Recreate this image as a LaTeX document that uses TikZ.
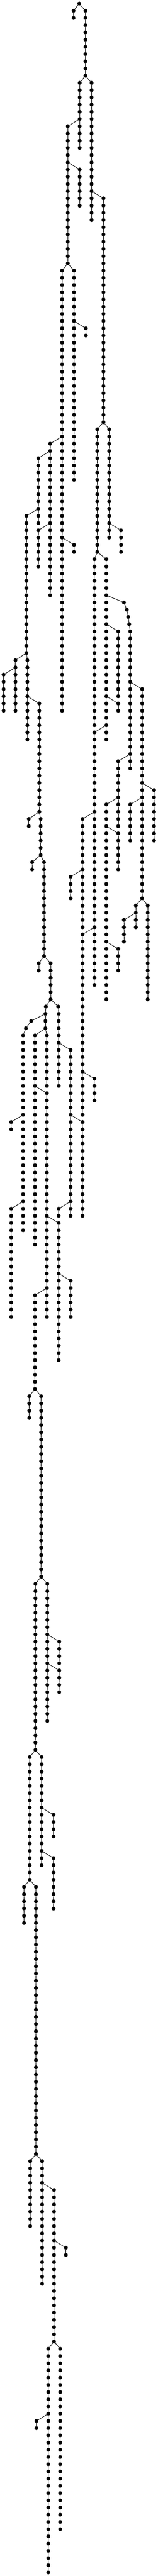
\documentclass[tikz,border=0pt]{standalone}
\tikzset{
	dot/.style={circle,fill=black,inner sep=0pt,minimum size=11pt},
	link/.style={line width=1.33pt}
}
\def\chains{%
	1/666/0/0/0, 2/618/1/2/1, 3/718/1/10/1, 4/670/11/20/3, 5/770/11/30/3,
	6/570/17/36/4, 7/670/23/28/6, 8/870/27/58/5, 9/522/37/98/6, 10/622/37/66/6,
	11/722/45/46/10, 12/422/61/82/9, 13/622/75/76/9, 14/322/63/72/12, 15/322/73/78/12,
	16/222/71/90/14, 17/130/91/98/16, 18/230/91/102/16, 19/30/93/98/17, 20/330/97/112/18,
	21/242/113/114/20, 22/342/113/118/20, 23/270/119/120/22, 24/370/119/132/22, 25/326/133/134/24,
	26/426/133/138/24, 27/386/139/139/26, 28/382/140/142/27, 29/262/141/141/28, 30/218/142/142/29,
	31/194/143/170/30, 32/294/143/172/28, 33/394/143/150/28, 34/490/139/139/26, 35/494/140/150/34,
	36/94/155/156/31, 37/94/167/182/31, 38/394/151/182/32, 39/594/145/168/35, 40/694/155/168/39,
	41/494/167/168/39, 42/494/169/188/38, 43/594/177/182/42, 44/294/179/192/38, 45/246/193/196/44,
	46/346/193/218/44, 47/298/219/242/46, 48/398/219/238/46, 49/498/227/230/48, 50/498/231/234/48,
	51/250/243/260/47, 52/350/243/258/47, 53/450/251/254/52, 54/450/257/264/52, 55/202/261/266/51,
	56/302/261/298/51, 57/254/299/308/56, 58/354/299/316/56, 59/454/303/324/58, 60/554/311/312/59,
	61/406/325/356/59, 62/506/325/350/59, 63/306/335/336/61, 64/818/59/76/8, 65/918/59/74/8,
	66/1018/73/76/65, 67/794/77/100/64, 68/894/77/102/64, 69/1042/83/83/68, 70/1066/84/84/69,
	71/1078/85/85/70, 72/1086/86/86/71, 73/1095/87/106/72, 74/994/87/96/68, 75/994/97/98/68,
	76/794/101/136/68, 77/694/113/128/76, 78/594/121/124/77, 79/694/129/154/76, 80/794/149/152/79,
	81/1195/95/124/73, 82/1295/109/116/81, 83/1095/111/116/81, 84/994/105/114/73, 85/894/111/138/84,
	86/994/115/120/85, 87/994/131/134/85, 88/1142/125/128/81, 89/1042/127/130/88, 90/1242/125/138/81%
}
\begin{document}
\begin{tikzpicture}[x=0.33333pt,y=-20.267pt]
	\useasboundingbox (0,-0.4934) rectangle (1326,356.4934);

	\foreach \id/\x/\first/\last/\up in \chains {
		\foreach \r in {\first,...,\last} {\node[dot] (c\id-\r) at (\x,\r) {};}
	}

	\foreach \id/\x/\first/\last/\up in \chains {
		\foreach \r in {\first,...,\last} {
			\pgfmathtruncatemacro{\prev}{\r-1}
			\ifnum\r>\first
				\draw[link] (c\id-\prev) -- (c\id-\r);
			\else
				\ifnum\up>0
					\draw[link] (c\up-\prev) -- (c\id-\r);
				\fi
			\fi
		}
	}
\end{tikzpicture}
\end{document}
